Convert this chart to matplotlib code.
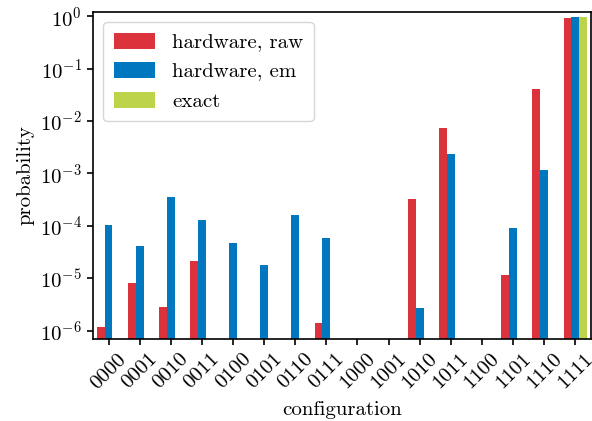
import numpy as np
import matplotlib
matplotlib.use("Agg")
import matplotlib.pyplot as plt

plt.rcParams["font.family"] = "serif"
plt.rcParams["font.serif"] = ["cmr10"]
plt.rcParams["mathtext.fontset"] = "cm"
plt.rcParams["axes.formatter.use_mathtext"] = True
plt.rcParams["axes.unicode_minus"] = False

configs = ["0000", "0001", "0010", "0011", "0100", "0101", "0110", "0111",
           "1000", "1001", "1010", "1011", "1100", "1101", "1110", "1111"]

# probabilities (0 = no bar)
p_raw = [1.2e-6, 8.3e-6, 2.9e-6, 2.1e-5, 0, 0, 0, 1.43e-6,
         0, 0, 3.3e-4, 7.5e-3, 0, 1.18e-5, 0.040, 0.905]
p_em = [1.06e-4, 4.05e-5, 3.5e-4, 1.32e-4, 4.8e-5, 1.83e-5, 1.58e-4, 6.0e-5,
        0, 0, 2.77e-6, 2.3e-3, 0, 9.3e-5, 1.14e-3, 0.945]
p_exact = [0, 0, 0, 0, 0, 0, 0, 0,
           0, 0, 0, 0, 0, 0, 0, 0.945]

c_raw = "#dc323c"
c_em = "#0077be"
c_exact = "#bcd34a"

x = np.arange(len(configs))
w = 0.25

fig = plt.figure(figsize=(5.92, 4.21), dpi=100)
ax = fig.add_axes([0.157, 0.195, 0.841, 0.777])

ymin = 7.0e-7
raw = np.array(p_raw)
em = np.array(p_em)
ex = np.array(p_exact)
ax.bar(x - w, np.where(raw > 0, raw, np.nan), w, color=c_raw, label="hardware, raw")
ax.bar(x, np.where(em > 0, em, np.nan), w, color=c_em, label="hardware, em")
ax.bar(x + w, np.where(ex > 0, ex, np.nan), w, color=c_exact, label="exact")

ax.set_yscale("log")
ax.set_ylim(ymin, 1.21)
ax.set_xlim(-0.5, 15.5)
ax.yaxis.set_minor_locator(matplotlib.ticker.NullLocator())
ax.set_yticks([1e-6, 1e-5, 1e-4, 1e-3, 1e-2, 1e-1, 1e0])

ax.set_xticks(x)
ax.set_xticklabels(configs, rotation=45, ha="center")
ax.tick_params(labelsize=15, direction="out", length=4.5, width=1.2)
ax.set_xlabel("configuration", fontsize=15, labelpad=6)
ax.set_ylabel("probability", fontsize=15)
for s in ax.spines.values():
    s.set_linewidth(1.2)

ax.legend(loc="upper left", fontsize=15, handlelength=2.0, handleheight=0.8,
          borderpad=0.5, labelspacing=0.5, framealpha=0.8)

fig.savefig("out.png", dpi=100)
